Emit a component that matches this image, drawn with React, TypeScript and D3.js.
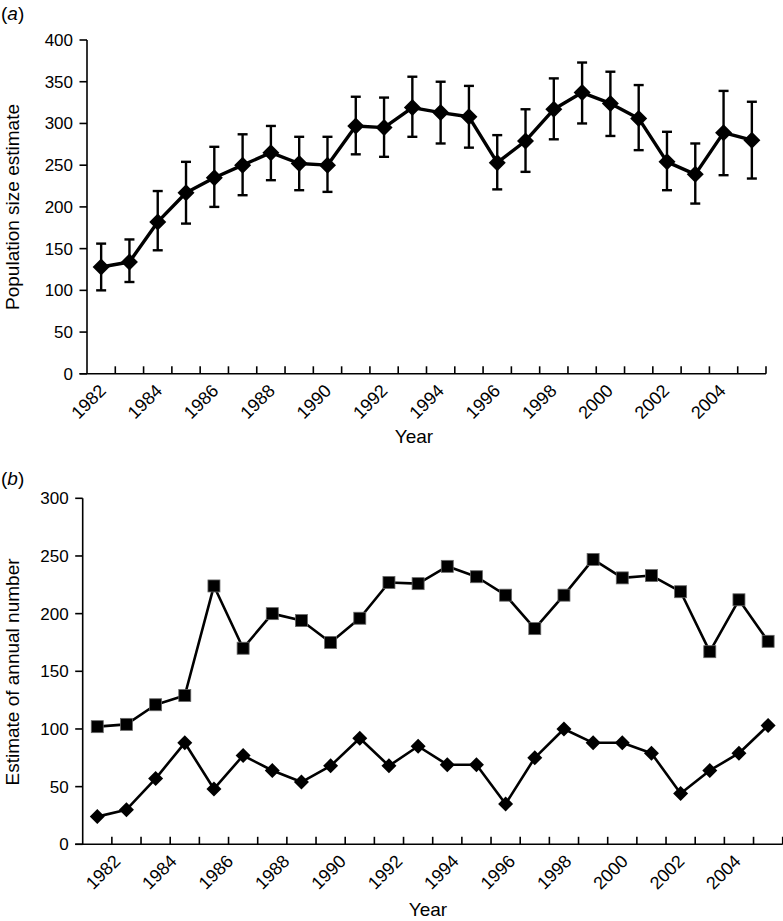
import React, { useEffect, useRef } from 'react';
import * as d3 from 'd3';

const years = ['1982', '1983', '1984', '1985', '1986', '1987', '1988', '1989', '1990', '1991', '1992', '1993',
  '1994', '1995', '1996', '1997', '1998', '1999', '2000', '2001', '2002', '2003', '2004', '2005'];
const yearLabels = ['1982', '1984', '1986', '1988', '1990', '1992', '1994', '1996', '1998', '2000', '2002', '2004'];

// panel (a): population size estimate with error bars
const popEstimate = [128, 134, 182, 217, 235, 250, 265, 252, 250, 297, 295, 319, 313, 308, 253, 279, 317, 337, 324, 306, 254, 239, 289, 280];
const popUpper = [156, 161, 219, 254, 272, 287, 297, 284, 284, 332, 331, 356, 350, 345, 286, 317, 354, 373, 362, 346, 290, 276, 339, 326];
const popLower = [100, 110, 148, 180, 200, 214, 232, 220, 218, 263, 260, 284, 276, 271, 221, 242, 281, 300, 285, 268, 220, 204, 238, 234];
const popTicks = [0, 50, 100, 150, 200, 250, 300, 350, 400];

// panel (b): estimate of annual number, two series
const squareSeries = [102, 104, 121, 129, 224, 170, 200, 194, 175, 196, 227, 226, 241, 232, 216, 187, 216, 247, 231, 233, 219, 167, 212, 176];
const diamondSeries = [24, 30, 57, 88, 48, 77, 64, 54, 68, 92, 68, 85, 69, 69, 35, 75, 100, 88, 88, 79, 44, 64, 79, 103];
const annualTicks = [0, 50, 100, 150, 200, 250, 300];

const FONT = '"Liberation Sans", Arial, Helvetica, sans-serif';

const App = () => {
  const ref = useRef<SVGSVGElement>(null);

  useEffect(() => {
    const svg = d3.select(ref.current);
    svg.selectAll('*').remove();

    const diamond = (g, cx, cy, r) =>
      g.append('path')
        .attr('d', `M${cx},${cy - r}L${cx + r},${cy}L${cx},${cy + r}L${cx - r},${cy}Z`)
        .attr('fill', '#000');

    // draws axes for one panel
    function drawAxes(opts) {
      const { x, y, ticks, labelScale, labelDy, yTitle, yTitleY, panel, panelY, yearX, yearY } = opts;
      const g = svg.append('g');
      const [x0, x1] = x.range();
      const [yb, yt] = y.range();
      const tickLen = 7.5;

      // y axis
      g.append('line').attr('x1', x0).attr('x2', x0).attr('y1', yt).attr('y2', yb)
        .attr('stroke', '#000').attr('stroke-width', 1.6);
      ticks.forEach(t => {
        g.append('line').attr('x1', x0 - tickLen).attr('x2', x0).attr('y1', y(t)).attr('y2', y(t))
          .attr('stroke', '#000').attr('stroke-width', 1.6);
        g.append('text').attr('x', x0 - 14).attr('y', y(t)).attr('dy', '0.35em')
          .attr('text-anchor', 'end').style('font-size', '17px').text(t);
      });

      // x axis
      g.append('line').attr('x1', x0 - tickLen).attr('x2', x1).attr('y1', yb).attr('y2', yb)
        .attr('stroke', '#000').attr('stroke-width', 1.6);
      x.domain().forEach(d => {
        const tx = x(d) + x.bandwidth();
        g.append('line').attr('x1', tx).attr('x2', tx).attr('y1', yb).attr('y2', yb - tickLen)
          .attr('stroke', '#000').attr('stroke-width', 1.6);
      });
      yearLabels.forEach(lab => {
        g.append('text')
          .attr('transform', `translate(${labelScale(lab)},${yb + labelDy}) rotate(-45)`)
          .attr('text-anchor', 'end').style('font-size', '18px').text(lab);
      });

      g.append('text').attr('x', yearX).attr('y', yearY).attr('text-anchor', 'middle')
        .style('font-size', '19px').text('Year');
      g.append('text')
        .attr('transform', `translate(19,${yTitleY}) rotate(-90)`)
        .attr('text-anchor', 'middle').style('font-size', '19px').text(yTitle);

      const pl = g.append('text').attr('x', 1).attr('y', panelY).style('font-size', '19px');
      pl.append('tspan').text('(');
      pl.append('tspan').style('font-style', 'italic').text(panel);
      pl.append('tspan').text(')');
    }

    svg.style('font-family', FONT);

    // ---------- panel (a) ----------
    const xA = d3.scaleBand().domain(years).range([87, 766]).padding(0);
    const yA = d3.scaleLinear().domain([0, 400]).range([373.8, 40]);
    const labA = d3.scalePoint().domain(years).range([107, 107 + 23 * 28.17]);
    drawAxes({
      x: xA, y: yA, ticks: popTicks, labelScale: labA, labelDy: 18,
      yTitle: 'Population size estimate', yTitleY: 207, panel: 'a', panelY: 20,
      yearX: 414, yearY: 443
    });
    const cxA = d => xA(d) + xA.bandwidth() / 2;
    const gA = svg.append('g');
    years.forEach((yr, i) => {
      const cx = cxA(yr);
      gA.append('line').attr('x1', cx).attr('x2', cx).attr('y1', yA(popUpper[i])).attr('y2', yA(popLower[i]))
        .attr('stroke', '#000').attr('stroke-width', 2.4);
      [popUpper[i], popLower[i]].forEach(v => {
        gA.append('line').attr('x1', cx - 5).attr('x2', cx + 5).attr('y1', yA(v)).attr('y2', yA(v))
          .attr('stroke', '#000').attr('stroke-width', 2.4);
      });
    });
    gA.append('path')
      .attr('d', d3.line<number>().x((d, i) => cxA(years[i])).y(d => yA(d))(popEstimate))
      .attr('fill', 'none').attr('stroke', '#000').attr('stroke-width', 3.4).attr('stroke-linejoin', 'round');
    popEstimate.forEach((v, i) => diamond(gA, cxA(years[i]), yA(v), 8.5));

    // ---------- panel (b) ----------
    const xB = d3.scaleBand().domain(years).range([82.7, 782.7]).padding(0);
    const yB = d3.scaleLinear().domain([0, 300]).range([844.3, 498.3]);
    const labB = d3.scalePoint().domain(years).range([121.5, 121.5 + 23 * 28.2]);
    drawAxes({
      x: xB, y: yB, ticks: annualTicks, labelScale: labB, labelDy: 18,
      yTitle: 'Estimate of annual number', yTitleY: 672, panel: 'b', panelY: 485,
      yearX: 428, yearY: 916
    });
    const cxB = d => xB(d) + xB.bandwidth() / 2;
    const gB = svg.append('g');
    const lineB = d3.line<number>().x((d, i) => cxB(years[i])).y(d => yB(d));
    gB.append('path').attr('d', lineB(squareSeries))
      .attr('fill', 'none').attr('stroke', '#000').attr('stroke-width', 2.6).attr('stroke-linejoin', 'round');
    gB.append('path').attr('d', lineB(diamondSeries))
      .attr('fill', 'none').attr('stroke', '#000').attr('stroke-width', 2.6).attr('stroke-linejoin', 'round');
    squareSeries.forEach((v, i) => {
      gB.append('rect').attr('x', cxB(years[i]) - 6).attr('y', yB(v) - 6)
        .attr('width', 12).attr('height', 12).attr('fill', '#000')
        .attr('stroke', '#666').attr('stroke-width', 0.8);
    });
    diamondSeries.forEach((v, i) => diamond(gB, cxB(years[i]), yB(v), 7.5));
  }, []);

  return (
    <svg ref={ref} width={783} height={921}
      style={{ position: 'absolute', left: 0, top: 0, background: '#fff', display: 'block' }} />
  );
};

export default App;
